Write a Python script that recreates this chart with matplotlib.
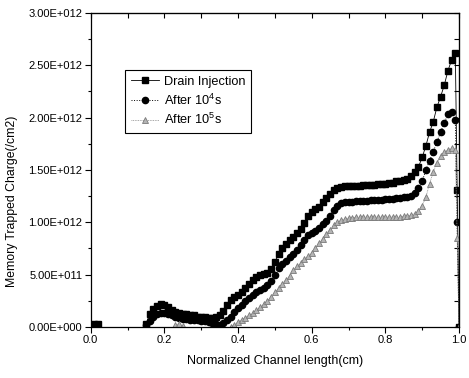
import numpy as np
import matplotlib
matplotlib.use("Agg")
import matplotlib.pyplot as plt
from matplotlib.ticker import MultipleLocator, FixedLocator, FixedFormatter

plt.rcParams['font.family'] = ['Liberation Sans', 'DejaVu Sans']
plt.rcParams['mathtext.fontset'] = 'custom'
plt.rcParams['mathtext.rm'] = 'Liberation Sans'
plt.rcParams['mathtext.it'] = 'Liberation Sans:italic'

nan = np.nan
# Normalized channel position
x = [i / 100 for i in range(100)] + [0.995, 1.0]

# Trapped charge, in units of 1E12 /cm2
drain_injection = [
    0.02, 0.03, 0.03, nan, nan, nan, nan, nan, nan, nan,
    nan, nan, nan, nan, nan, 0.03, 0.12, 0.17, 0.20, 0.22,
    0.21, 0.19, 0.16, 0.14, 0.13, 0.12, 0.12, 0.11, 0.11, 0.10,
    0.10, 0.10, 0.09, 0.09, 0.10, 0.11, 0.15, 0.21, 0.26, 0.29,
    0.31, 0.33, 0.37, 0.41, 0.45, 0.48, 0.50, 0.51, 0.52, 0.55,
    0.62, 0.70, 0.75, 0.79, 0.83, 0.86, 0.90, 0.94, 0.99, 1.06,
    1.10, 1.13, 1.15, 1.19, 1.23, 1.27, 1.31, 1.33, 1.34, 1.35,
    1.35, 1.35, 1.35, 1.35, 1.36, 1.36, 1.36, 1.36, 1.37, 1.37,
    1.37, 1.38, 1.38, 1.39, 1.39, 1.40, 1.41, 1.44, 1.48, 1.53,
    1.62, 1.73, 1.86, 1.96, 2.10, 2.20, 2.31, 2.45, 2.55, 2.62,
    1.31, 0.0,
]
after_1e4 = [
    nan, nan, nan, nan, nan, nan, nan, nan, nan, nan,
    nan, nan, nan, nan, nan, 0.02, 0.06, 0.10, 0.12, 0.13,
    0.13, 0.12, 0.11, 0.10, 0.09, 0.08, 0.08, 0.07, 0.07, 0.07,
    0.06, 0.06, 0.05, 0.04, 0.03, 0.02, 0.04, 0.07, 0.10, 0.14,
    0.18, 0.21, 0.25, 0.28, 0.31, 0.33, 0.35, 0.37, 0.40, 0.44,
    0.50, 0.56, 0.60, 0.63, 0.67, 0.70, 0.74, 0.78, 0.83, 0.88,
    0.90, 0.92, 0.95, 0.98, 1.01, 1.06, 1.12, 1.16, 1.18, 1.19,
    1.19, 1.19, 1.20, 1.20, 1.20, 1.20, 1.21, 1.21, 1.21, 1.21,
    1.22, 1.22, 1.22, 1.23, 1.23, 1.24, 1.24, 1.25, 1.28, 1.33,
    1.39, 1.50, 1.59, 1.67, 1.77, 1.86, 1.95, 2.03, 2.05, 1.98,
    1.00, 0.0,
]
after_1e5 = [
    nan, nan, nan, nan, nan, nan, nan, nan, nan, nan,
    nan, nan, nan, nan, nan, nan, nan, nan, nan, nan,
    nan, nan, nan, 0.02, 0.03, 0.01, nan, nan, nan, nan,
    nan, nan, nan, nan, nan, nan, nan, nan, 0.0, 0.02,
    0.05, 0.07, 0.09, 0.11, 0.13, 0.16, 0.19, 0.22, 0.25, 0.29,
    0.33, 0.37, 0.41, 0.45, 0.49, 0.54, 0.58, 0.61, 0.65, 0.68,
    0.71, 0.75, 0.80, 0.84, 0.89, 0.93, 0.97, 1.00, 1.02, 1.03,
    1.04, 1.04, 1.05, 1.05, 1.05, 1.05, 1.05, 1.05, 1.05, 1.05,
    1.05, 1.05, 1.05, 1.05, 1.05, 1.06, 1.06, 1.07, 1.08, 1.11,
    1.16, 1.24, 1.37, 1.48, 1.57, 1.63, 1.67, 1.69, 1.71, 1.69,
    0.85, 0.0,
]

series_labels = ["Drain Injection", "After 10$^4$s", "After 10$^5$s"]
y_ticks = [0.0, 0.5, 1.0, 1.5, 2.0, 2.5, 3.0]
y_tick_labels = ["0.00E+000", "5.00E+011", "1.00E+012", "1.50E+012",
                 "2.00E+012", "2.50E+012", "3.00E+012"]
x_ticks = [0.0, 0.2, 0.4, 0.6, 0.8, 1.0]
x_tick_labels = ["0.0", "0.2", "0.4", "0.6", "0.8", "1.0"]

fig = plt.figure(figsize=(4.69, 3.78), dpi=100)
ax = fig.add_axes([0.1934, 0.135, 0.7853, 0.8307])

ax.plot(x, drain_injection, '-', color='black', lw=0.6, marker='s',
        ms=4.2, mfc='black', mec='black', label=series_labels[0])
ax.plot(x, after_1e4, ':', color='black', lw=0.7, marker='o',
        ms=4.5, mfc='black', mec='black', label=series_labels[1])
ax.plot(x, after_1e5, linestyle=(0, (1, 1)), color='#8a8a8a', lw=0.6, marker='^',
        ms=4.3, mfc='#b4b4b4', mec='#7a7a7a', mew=0.6, label=series_labels[2])

ax.set_xlim(0, 1)
ax.set_ylim(0, 3.0)

ax.xaxis.set_major_locator(FixedLocator(x_ticks))
ax.xaxis.set_major_formatter(FixedFormatter(x_tick_labels))
ax.xaxis.set_minor_locator(MultipleLocator(0.1))
ax.yaxis.set_major_locator(FixedLocator(y_ticks))
ax.yaxis.set_major_formatter(FixedFormatter(y_tick_labels))
ax.yaxis.set_minor_locator(MultipleLocator(0.25))

ax.tick_params(which='both', direction='out', top=False, right=False,
               labelsize=8, width=0.8, pad=2)
ax.tick_params(which='major', length=4)
ax.tick_params(which='minor', length=2.5)

for s in ax.spines.values():
    s.set_linewidth(0.9)

# Inward ticks on the top and right spines
top = ax.secondary_xaxis('top')
top.xaxis.set_major_locator(MultipleLocator(0.1))
top.tick_params(direction='in', length=3.5, width=0.8, labeltop=False)
right = ax.secondary_yaxis('right')
right.yaxis.set_major_locator(MultipleLocator(0.25))
right.tick_params(direction='in', length=3.5, width=0.8, labelright=False)

ax.set_xlabel("Normalized Channel length(cm)", fontsize=9, labelpad=7)
ax.set_ylabel("Memory Trapped Charge(/cm2)", fontsize=8.8)
ax.yaxis.set_label_coords(-0.197, 0.40)

leg = ax.legend(loc='upper left', bbox_to_anchor=(0.093, 0.818), fontsize=9.2,
                frameon=True, fancybox=False, edgecolor='black', framealpha=1,
                handlelength=2.2, handletextpad=0.4, borderpad=0.45,
                labelspacing=0.35, borderaxespad=0)
leg.get_frame().set_linewidth(0.8)

fig.savefig("out.png", dpi=100)
